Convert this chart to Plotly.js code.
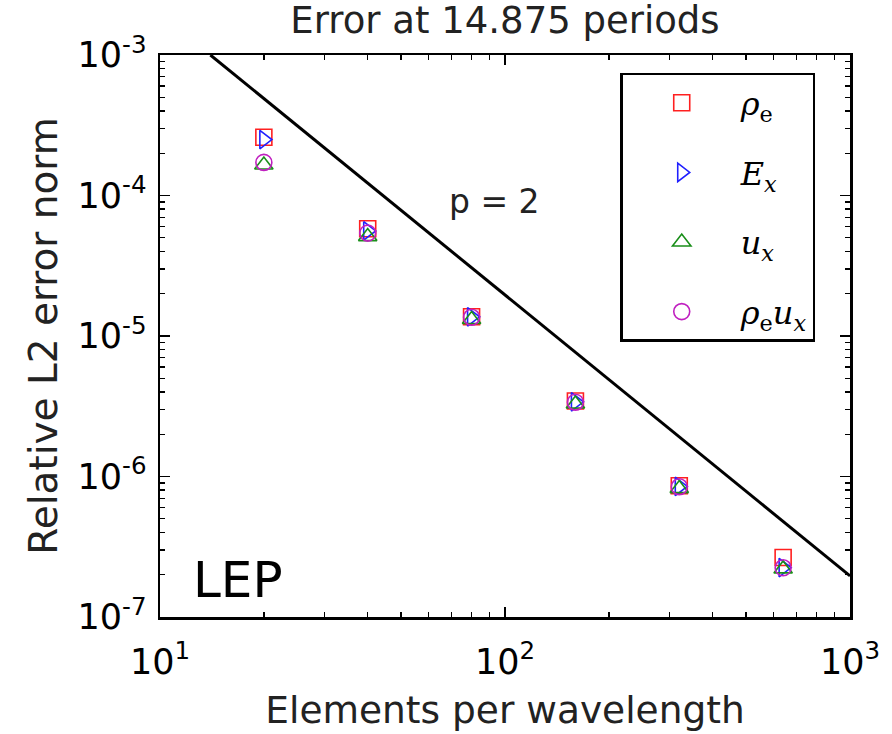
<!DOCTYPE html>
<html>
<head>
<meta charset="utf-8">
<script src="https://cdn.plot.ly/plotly-3.0.1.min.js"></script>
<style>html,body{margin:0;padding:0;background:#fff;}#chart{width:892px;height:734px;}</style>
</head>
<body>
<div id="chart"></div>
<script>
// Data
const elements = [20, 40, 80, 160, 320, 640];
const rhoE   = [2.6e-4, 5.8e-5, 1.37e-5, 3.45e-6, 8.6e-7, 2.65e-7];
const Ex     = [2.5e-4, 5.6e-5, 1.37e-5, 3.4e-6, 8.5e-7, 2.25e-7];
const ux     = [1.65e-4, 5.1e-5, 1.31e-5, 3.28e-6, 8.2e-7, 2.2e-7];
const rhoEux = [1.72e-4, 5.4e-5, 1.36e-5, 3.38e-6, 8.45e-7, 2.24e-7];
const refX = [14, 1000];
const refY = [1.0e-3, 1.96e-7];
const xTickVals = [10, 100, 1000];
const xTickText = ['10<sup>1</sup>', '10<sup>2</sup>', '10<sup>3</sup>'];
const yTickVals = [1e-7, 1e-6, 1e-5, 1e-4, 1e-3];
const yTickText = ['10<sup>-7</sup>', '10<sup>-6</sup>', '10<sup>-5</sup>', '10<sup>-4</sup>', '10<sup>-3</sup>'];
const mult = [2, 3, 4, 5, 6, 7, 8, 9];
const xMinor = [10, 100].flatMap(d => mult.map(m => m * d));
const yMinor = [1e-7, 1e-6, 1e-5, 1e-4].flatMap(d => mult.map(m => m * d));

const legFont = {family: 'DejaVu Serif, Liberation Serif, serif', size: 32, color: '#000'};
function series(y, name, symbol, color, group) {
  return {x: elements, y: y, name: name, mode: 'markers', type: 'scatter',
    legendgroup: group,
    marker: {symbol: symbol, size: 16, color: color, line: {color: color, width: 1.6}}};
}
const traces = [
  {x: refX, y: refY, mode: 'lines', type: 'scatter', showlegend: false,
   line: {color: '#000', width: 3}, hoverinfo: 'skip'},
  series(rhoE, '<i>ρ</i><sub>e</sub>', 'square-open', '#ff2020', 'a'),
  series(Ex, '<i>E</i><sub><i>x</i></sub>', 'triangle-right-open', '#2020ff', 'b'),
  series(ux, '<i>u</i><sub><i>x</i></sub>', 'triangle-up-open', '#1a8f1a', 'c'),
  series(rhoEux, '<i>ρ</i><sub>e</sub><i>u</i><sub><i>x</i></sub>', 'circle-open', '#c020c0', 'd')
];

const tickFont = {family: 'DejaVu Sans, sans-serif', size: 35, color: '#000'};
const axisCommon = {
  type: 'log', tickmode: 'array',
  showgrid: false, zeroline: false, showline: true, mirror: 'ticks',
  linecolor: '#000', linewidth: 2.5, ticks: 'inside', ticklen: 10, tickwidth: 1.6,
  tickcolor: '#000', tickfont: tickFont
};
const minorCommon = {ticks: 'inside', ticklen: 5, tickwidth: 1.4, tickcolor: '#000', showgrid: false, tickmode: 'array'};

const layout = {
  width: 892, height: 734,
  margin: {l: 160, r: 42, t: 55, b: 117},
  paper_bgcolor: '#fff', plot_bgcolor: '#fff',
  font: {family: 'DejaVu Sans, sans-serif', color: '#000'},
  title: {text: 'Error at 14.875 periods', font: {family: 'DejaVu Sans, sans-serif', size: 37, color: '#222'},
          xref: 'paper', x: 0.5, xanchor: 'center', y: 0.99, yanchor: 'top'},
  xaxis: Object.assign({}, axisCommon, {range: [1, 3], tickvals: xTickVals, ticktext: xTickText,
    ticklabelstandoff: 12,
    minor: Object.assign({}, minorCommon, {tickvals: xMinor}),
    title: {text: 'Elements per wavelength', font: {family: 'DejaVu Sans, sans-serif', size: 37.5, color: '#222'}, standoff: 16}}),
  yaxis: Object.assign({}, axisCommon, {range: [-7, -3], tickvals: yTickVals, ticktext: yTickText,
    ticklabelstandoff: 4,
    minor: Object.assign({}, minorCommon, {tickvals: yMinor}),
    title: {text: 'Relative L2 error norm', font: {family: 'DejaVu Sans, sans-serif', size: 39, color: '#222'}, standoff: 8}}),
  showlegend: true,
  legend: {x: 0.667, y: 0.968, xanchor: 'left', yanchor: 'top',
    bordercolor: '#000', borderwidth: 2.5, bgcolor: '#fff',
    font: legFont, tracegroupgap: 25, itemwidth: 108},
  annotations: [
    {x: Math.log10(68), y: Math.log10(9.0e-5), xref: 'x', yref: 'y', text: 'p = 2', showarrow: false,
     xanchor: 'left', yanchor: 'middle', font: {family: 'DejaVu Sans, sans-serif', size: 33, color: '#222'}},
    {x: 0.045, y: 0.01, xref: 'paper', yref: 'paper', text: 'LEP', showarrow: false,
     xanchor: 'left', yanchor: 'bottom', font: {family: 'DejaVu Sans, sans-serif', size: 50, color: '#000'}}
  ]
};

Plotly.newPlot('chart', traces, layout, {displayModeBar: false, staticPlot: true});
</script>
</body>
</html>
